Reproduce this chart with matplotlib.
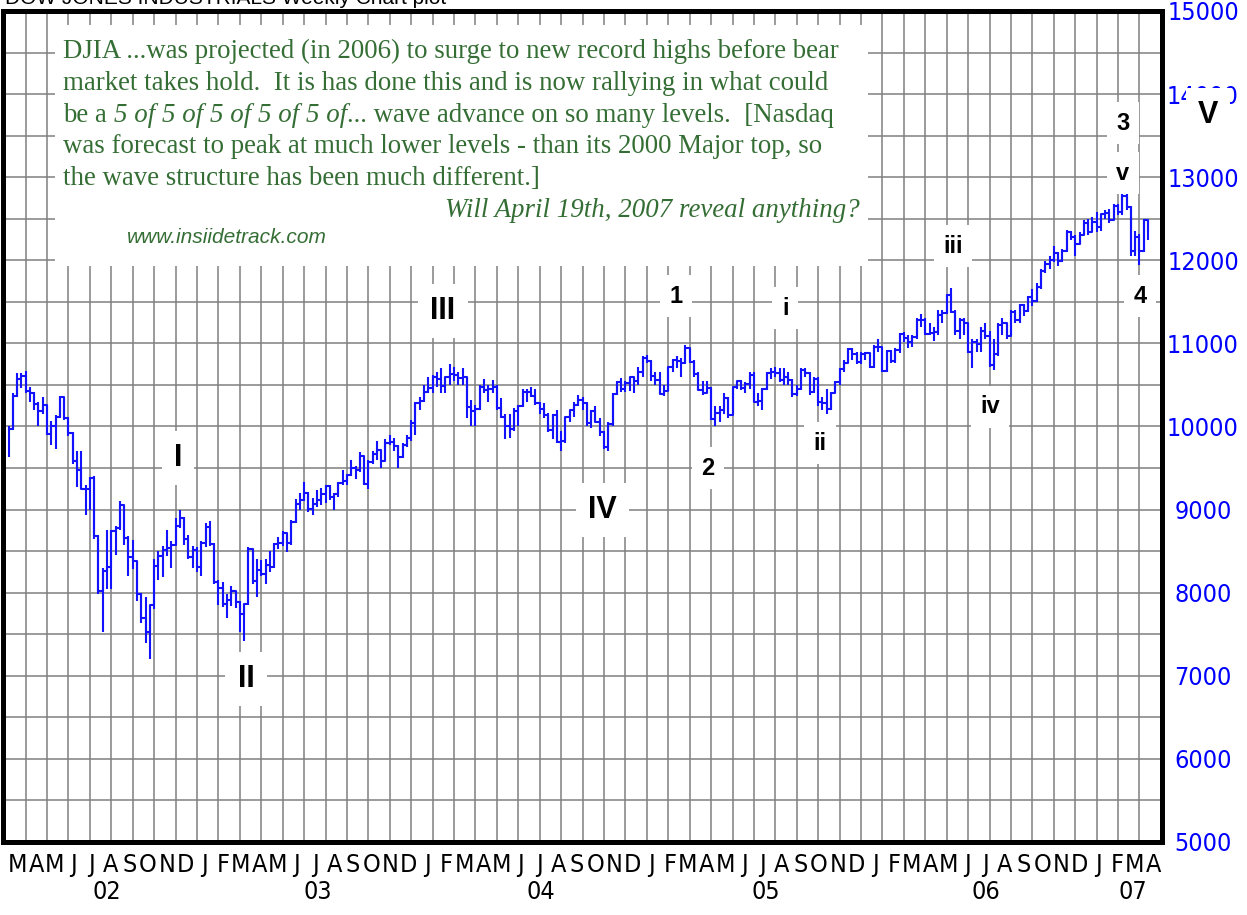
import matplotlib
matplotlib.use("Agg")
import matplotlib.pyplot as plt
import matplotlib.dates as mdates
from matplotlib import font_manager as fm
from matplotlib.patches import Rectangle
import numpy as np
import pandas as pd

# ---------------- data (weekly DJIA bars, week ending Friday) ----------------
first_week = "2002-02-22"

close = [
    # 2002
    9968, 10368, 10572, 10608, 10427, 10404, 10271, 10191, 10257, 9910, 10007, 10115, 10353, 10105, 9925,
    9589, 9474, 9253, 9243, 9380, 8684, 8019, 8264, 8313, 8745, 8778, 9053, 8664, 8427, 8379, 7986, 7701,
    7529, 7850, 8322, 8444, 8518, 8537, 8579, 8805, 8896, 8645, 8433, 8512, 8304,
    # 2003
    8602, 8785, 8586, 8131, 8054, 7864, 7909, 8018, 7891, 7740, 7859, 8522, 8145, 8277, 8221, 8337, 8307,
    8582, 8604, 8713, 8601, 8850, 9062, 9117, 9200, 9011, 9070, 9119, 9188, 9284, 9153, 9191, 9321, 9348,
    9416, 9503, 9471, 9644, 9313, 9573, 9674, 9722, 9582, 9801, 9810, 9768, 9628, 9782, 9862, 10042, 10278, 10305,
    # 2004
    10410, 10458, 10600, 10568, 10488, 10593, 10628, 10620, 10584, 10596, 10240, 10186, 10212, 10470, 10442,
    10451, 10472, 10226, 10118, 10012, 9966, 10188, 10242, 10410, 10417, 10371, 10282, 10213, 10140, 9962,
    10140, 9815, 9825, 10111, 10195, 10260, 10314, 10284, 10047, 10192, 10055, 9933, 9757, 10027, 10387,
    10539, 10456, 10522, 10592, 10543, 10661, 10827, 10783,
    # 2005
    10603, 10558, 10393, 10427, 10716, 10796, 10785, 10766, 10940, 10774, 10629, 10442, 10404, 10461, 10087,
    10157, 10193, 10345, 10140, 10471, 10542, 10461, 10512, 10623, 10297, 10303, 10449, 10640, 10651, 10641,
    10558, 10600, 10559, 10397, 10448, 10678, 10641, 10420, 10569, 10292, 10287, 10215, 10402, 10531, 10686,
    10766, 10931, 10877, 10778, 10876, 10883, 10718,
    # 2006
    10959, 10960, 10667, 10907, 10793, 10919, 11115, 11061, 11022, 11076, 11279, 11280, 11109, 11120, 11137,
    11347, 11367, 11577, 11380, 11144, 11278, 11247, 10891, 11015, 10989, 11150, 11090, 10739, 10868, 11219,
    11240, 11089, 11381, 11284, 11464, 11392, 11560, 11508, 11679, 11866, 11960, 12002, 12090, 11986, 12108,
    12342, 12280, 12194, 12307, 12446, 12343, 12463,
    # 2007
    12398, 12556, 12566, 12487, 12654, 12581, 12768, 12647, 12114, 12277, 12111, 12481, 12354,
]

high = [
    # 2002
    10000, 10400, 10640, 10640, 10670, 10480, 10420, 10300, 10350, 10260, 10070, 10140, 10370, 10350, 10120,
    9930, 9700, 9700, 9300, 9390, 9400, 8700, 8300, 8750, 8760, 8800, 9100, 9050, 8680, 8630, 8380, 8000,
    7950, 7850, 8400, 8500, 8560, 8760, 8620, 8900, 9000, 8910, 8700, 8560, 8550,
    # 2003
    8620, 8840, 8860, 8600, 8150, 8130, 7990, 8080, 8020, 7900, 7870, 8550, 8500, 8400, 8390, 8400, 8500,
    8600, 8670, 8740, 8700, 8880, 9130, 9200, 9330, 9210, 9140, 9230, 9260, 9300, 9300, 9200, 9330, 9480,
    9430, 9600, 9530, 9690, 9620, 9600, 9700, 9830, 9720, 9850, 9900, 9860, 9780, 9800, 9900, 10080, 10300, 10350,
    # 2004
    10500, 10600, 10620, 10650, 10700, 10600, 10750, 10720, 10650, 10700, 10600, 10320, 10260, 10500, 10570,
    10500, 10560, 10500, 10340, 10150, 10150, 10220, 10260, 10450, 10450, 10480, 10450, 10300, 10280, 10160,
    10150, 10200, 9950, 10120, 10200, 10300, 10380, 10350, 10300, 10200, 10250, 10100, 9950, 10050, 10400,
    10550, 10580, 10550, 10600, 10600, 10720, 10850, 10860,
    # 2005
    10800, 10650, 10650, 10500, 10720, 10810, 10850, 10820, 10980, 10950, 10800, 10650, 10550, 10550, 10480,
    10250, 10250, 10400, 10350, 10480, 10550, 10560, 10540, 10650, 10650, 10400, 10460, 10660, 10700, 10720,
    10700, 10700, 10650, 10570, 10500, 10700, 10700, 10650, 10600, 10600, 10350, 10450, 10420, 10550, 10700,
    10800, 10940, 10950, 10900, 10900, 10900, 10880,
    # 2006
    10980, 11050, 10950, 10920, 10920, 10950, 11120, 11140, 11100, 11100, 11300, 11350, 11300, 11250, 11200,
    11400, 11400, 11600, 11670, 11400, 11300, 11300, 11250, 11050, 11050, 11200, 11250, 11150, 11050, 11250,
    11300, 11250, 11400, 11400, 11480, 11470, 11570, 11650, 11730, 11900, 11990, 12050, 12170, 12100, 12130,
    12360, 12350, 12300, 12340, 12480, 12500, 12520,
    # 2007
    12580, 12560, 12600, 12620, 12680, 12680, 12800, 12800, 12650, 12350, 12320, 12500, 12480,
]

low = [
    # 2002
    9630, 9960, 10360, 10460, 10400, 10300, 10200, 10000, 10150, 9900, 9780, 9730, 10100, 10080, 9880,
    9550, 9270, 9250, 8940, 9000, 8650, 7980, 7530, 8040, 8040, 8450, 8760, 8580, 8200, 8290, 7900, 7640,
    7400, 7200, 7800, 8150, 8190, 8440, 8300, 8580, 8780, 8580, 8400, 8300, 8250,
    # 2003
    8200, 8550, 8560, 8100, 7850, 7830, 7700, 7840, 7820, 7530, 7420, 7850, 8100, 7950, 8200, 8100, 8250,
    8300, 8530, 8560, 8490, 8580, 8840, 8990, 9100, 8970, 8940, 9030, 9050, 9080, 9120, 9000, 9150, 9300,
    9300, 9400, 9370, 9450, 9300, 9250, 9550, 9600, 9500, 9590, 9780, 9700, 9500, 9620, 9750, 9830, 9900, 10200,
    # 2004
    10300, 10400, 10400, 10480, 10400, 10400, 10500, 10550, 10500, 10500, 10100, 10000, 10000, 10200, 10400,
    10300, 10400, 10200, 10100, 9850, 9860, 9950, 10000, 10230, 10300, 10350, 10260, 10150, 10100, 9930,
    9850, 9800, 9700, 9800, 10050, 10120, 10250, 10200, 10000, 9980, 10050, 9880, 9730, 9700, 10000,
    10380, 10420, 10420, 10430, 10400, 10500, 10600, 10770,
    # 2005
    10550, 10500, 10390, 10370, 10430, 10650, 10700, 10600, 10750, 10760, 10600, 10440, 10380, 10400, 10080,
    10010, 10050, 10150, 10100, 10150, 10450, 10440, 10400, 10450, 10290, 10250, 10200, 10440, 10570, 10600,
    10530, 10500, 10500, 10350, 10370, 10440, 10600, 10380, 10400, 10250, 10200, 10150, 10200, 10400, 10500,
    10650, 10760, 10800, 10750, 10750, 10800, 10700,
    # 2006
    10700, 10900, 10650, 10660, 10770, 10760, 10880, 11020, 10950, 10960, 11050, 11200, 11100, 11100, 11030,
    11100, 11250, 11350, 11370, 11100, 11050, 11100, 10880, 10700, 10900, 10900, 11050, 10720, 10680, 10850,
    11100, 11050, 11100, 11250, 11250, 11330, 11380, 11450, 11500, 11650, 11850, 11900, 11980, 11930, 11980,
    12100, 12250, 12050, 12200, 12300, 12300, 12350,
    # 2007
    12340, 12350, 12500, 12450, 12500, 12550, 12550, 12600, 12050, 12050, 11940, 12100, 12250,
]

y_ticks = [5000, 6000, 7000, 8000, 9000, 10000, 11000, 12000, 13000, 14000, 15000]
y_tick_labels = [str(v) for v in y_ticks]

month_starts = pd.date_range("2002-03-01", "2007-04-01", freq="MS")
month_labels = [d.strftime("%b")[0] for d in month_starts]

year_labels = ["02", "03", "04", "05", "06", "07"]
year_label_dates = ["2002-08-01", "2003-07-12", "2004-07-11", "2005-07-14", "2006-07-08", "2007-03-05"]

wave_labels = ["I", "II", "III", "IV", "1", "2", "i", "ii", "iii", "iv", "3", "v", "4", "V"]
wave_dates = ["2002-11-26", "2003-03-17", "2004-02-02", "2004-10-20", "2005-02-17", "2005-04-10",
              "2005-08-14", "2005-10-10", "2006-05-15", "2006-07-15", "2007-02-17", "2007-02-17",
              "2007-03-17", "2007-07-06"]
wave_values = [9620, 6960, 11390, 8995, 11570, 9500, 11425, 9800, 12170, 10235, 13650, 13050, 11570, 13750]

title_text = "DOW JONES INDUSTRIALS Weekly Chart plot"
note_lines = [
    "DJIA ...was projected (in 2006) to surge to new record highs before bear",
    "market takes hold.  It is has done this and is now rallying in what could",
    None,  # mixed-style line
    "was forecast to peak at much lower levels - than its 2000 Major top, so",
    "the wave structure has been much different.]",
]
note_mixed = [("be a ", "normal"), ("5 of 5 of 5 of 5 of 5 of", "italic"),
              ("... wave advance on so many levels.  [Nasdaq", "normal")]
note_question = "Will April 19th, 2007 reveal anything?"
note_url = "www.insiidetrack.com"

# ---------------- styling ----------------
W, H, DPI = 1247, 915, 100
BLUE = "#1212ff"
GRID = "#808080"
GREEN = "#356e35"
SERIF = "Liberation Serif"
SANS = "Liberation Sans"


def find_narrow_font():
    """Pick a narrow/condensed regular sans font if one is installed."""
    prefs = ["liberation sans narrow", "noto sans", "dejavu sans", "roboto", "open sans", "lato"]
    best = None
    for f in fm.fontManager.ttflist:
        n = f.name.lower()
        fn = f.fname.lower()
        narrowish = ("narrow" in n or "condensed" in n or "condensed" in fn or "narrow" in fn
                     or f.stretch in ("condensed", "semi-condensed", "extra-condensed"))
        if not narrowish:
            continue
        if f.style != "normal" or f.weight not in (400, "normal", "regular"):
            continue
        if "mono" in n or "serif" in n.replace("sans serif", "") or "cjk" in n:
            continue
        if "bold" in fn or "italic" in fn or "light" in fn or "medium" in fn or "semi" in fn.split("/")[-1] \
                and "semicondensed" not in fn.split("/")[-1] or "extra" in fn.split("/")[-1] or "black" in fn or "thin" in fn:
            continue
        rank = len(prefs)
        for i, p in enumerate(prefs):
            if n.startswith(p):
                rank = i
                break
        if best is None or rank < best[0]:
            best = (rank, f.fname, n)
    return best


nf = find_narrow_font()
if nf is not None:
    NARROW_PROPS = dict(fname=nf[1])
    NSIZE = 20 if ("liberation" in nf[2] or "noto" in nf[2]) else 18
else:
    NARROW_PROPS = dict(family=SANS)
    NSIZE = 17


def narrow(size=None):
    return fm.FontProperties(size=size or NSIZE, **NARROW_PROPS)


fig = plt.figure(figsize=(W / DPI, H / DPI), dpi=DPI, facecolor="white")


def px_rect(l, t, r, b):
    return [l / W, 1 - b / H, (r - l) / W, (b - t) / H]


AX_L, AX_T, AX_R, AX_B = 3, 11, 1162, 842
ax = fig.add_axes(px_rect(AX_L, AX_T, AX_R, AX_B))
ax.set_facecolor("white")

weeks = pd.date_range(first_week, periods=len(close), freq="W-FRI")
xw = mdates.date2num(weeks.to_pydatetime())

x_left = mdates.date2num(pd.Timestamp("2002-02-13").to_pydatetime())
x_right = x_left + (AX_R - AX_L) / 0.612
ax.set_xlim(x_left, x_right)
ax.set_ylim(5000, 15000)

# weekly bars
ax.vlines(xw, low, high, colors=BLUE, lw=1.5, zorder=4)
ax.step(xw, close, where="post", color=BLUE, lw=1.5, zorder=4)

# grid
grid_x = mdates.date2num(pd.date_range(weeks[4], periods=60, freq="35D").to_pydatetime())
grid_x = grid_x[grid_x < x_right]
ax.set_xticks(grid_x, minor=True)
ax.set_yticks(np.arange(5500, 15000, 1000), minor=True)
ax.grid(True, which="both", color=GRID, lw=1.1, zorder=1)
ax.xaxis.grid(False, which="major")
ax.set_axisbelow(True)

# y labels right
ax.yaxis.tick_right()
ax.set_yticks(y_ticks)
ax.set_yticklabels(y_tick_labels, color="#0000ff", fontproperties=narrow(), ha="center")
ax.tick_params(axis="y", which="both", length=0, pad=29.5)

# month labels
month_x = mdates.date2num((month_starts + pd.Timedelta(days=7)).to_pydatetime())
ax.set_xticks(month_x)
ax.set_xticklabels(month_labels, fontproperties=narrow(), color="black")
ax.tick_params(axis="x", which="both", length=0, pad=8)

for d, s in zip(year_label_dates, year_labels):
    ax.text(mdates.date2num(pd.Timestamp(d).to_pydatetime()), -0.046, s,
            transform=ax.get_xaxis_transform(), ha="center", va="top",
            fontproperties=narrow(), color="black", clip_on=False)

for s in ax.spines.values():
    s.set_linewidth(3.6)
    s.set_color("black")
    s.set_zorder(6)

# note box
bx0 = (55 - AX_L) / (AX_R - AX_L)
bx1 = (868 - AX_L) / (AX_R - AX_L)
by0 = (AX_B - 266) / (AX_B - AX_T)
by1 = (AX_B - 25) / (AX_B - AX_T)
ax.add_patch(Rectangle((bx0, by0), bx1 - bx0, by1 - by0, transform=ax.transAxes,
                       facecolor="white", edgecolor="none", zorder=3))

NOTE_SIZE = 19.4
baselines = [58, 90, 122, 153, 185]
renderer = fig.canvas.get_renderer()


def text_width(s, **kw):
    t = fig.text(0, 0, s, **kw)
    w = t.get_window_extent(renderer).width
    t.remove()
    return w


for yb, line in zip(baselines, note_lines):
    if line is None:
        xcur = 63
        for txt, style in note_mixed:
            kw = dict(fontsize=NOTE_SIZE, family=SERIF, style=style, color=GREEN)
            t = fig.text(xcur / W, 1 - yb / H, txt.rstrip(" "), va="baseline", ha="left", **kw)
            xcur = t.get_window_extent(renderer).x1
            if txt.endswith(" "):
                xcur += text_width("a a", **kw) - text_width("aa", **kw)
    else:
        fig.text(63 / W, 1 - yb / H, line, va="baseline", ha="left",
                 fontsize=NOTE_SIZE, family=SERIF, color=GREEN)

fig.text(860 / W, 1 - 217 / H, note_question, va="baseline", ha="right",
         fontsize=NOTE_SIZE, family=SERIF, style="italic", color=GREEN)
fig.text(127 / W, 1 - 243 / H, note_url, va="baseline", ha="left",
         fontsize=15, family=SANS, style="italic", color=GREEN)

# cut-off title at very top
fig.text(5 / W, 1 - 4 / H, title_text, va="baseline", ha="left",
         fontsize=15, family=SANS, color="black")

# wave labels
for lab, d, v in zip(wave_labels, wave_dates, wave_values):
    size = 22 if lab.isupper() else 17
    ax.text(mdates.date2num(pd.Timestamp(d).to_pydatetime()), v, lab,
            ha="center", va="center", fontsize=size, fontweight="bold", family=SANS,
            color="black", zorder=5, clip_on=False,
            bbox=dict(boxstyle="square,pad=0.4", facecolor="white", edgecolor="none"))

fig.savefig("out.png", dpi=DPI, facecolor="white")
